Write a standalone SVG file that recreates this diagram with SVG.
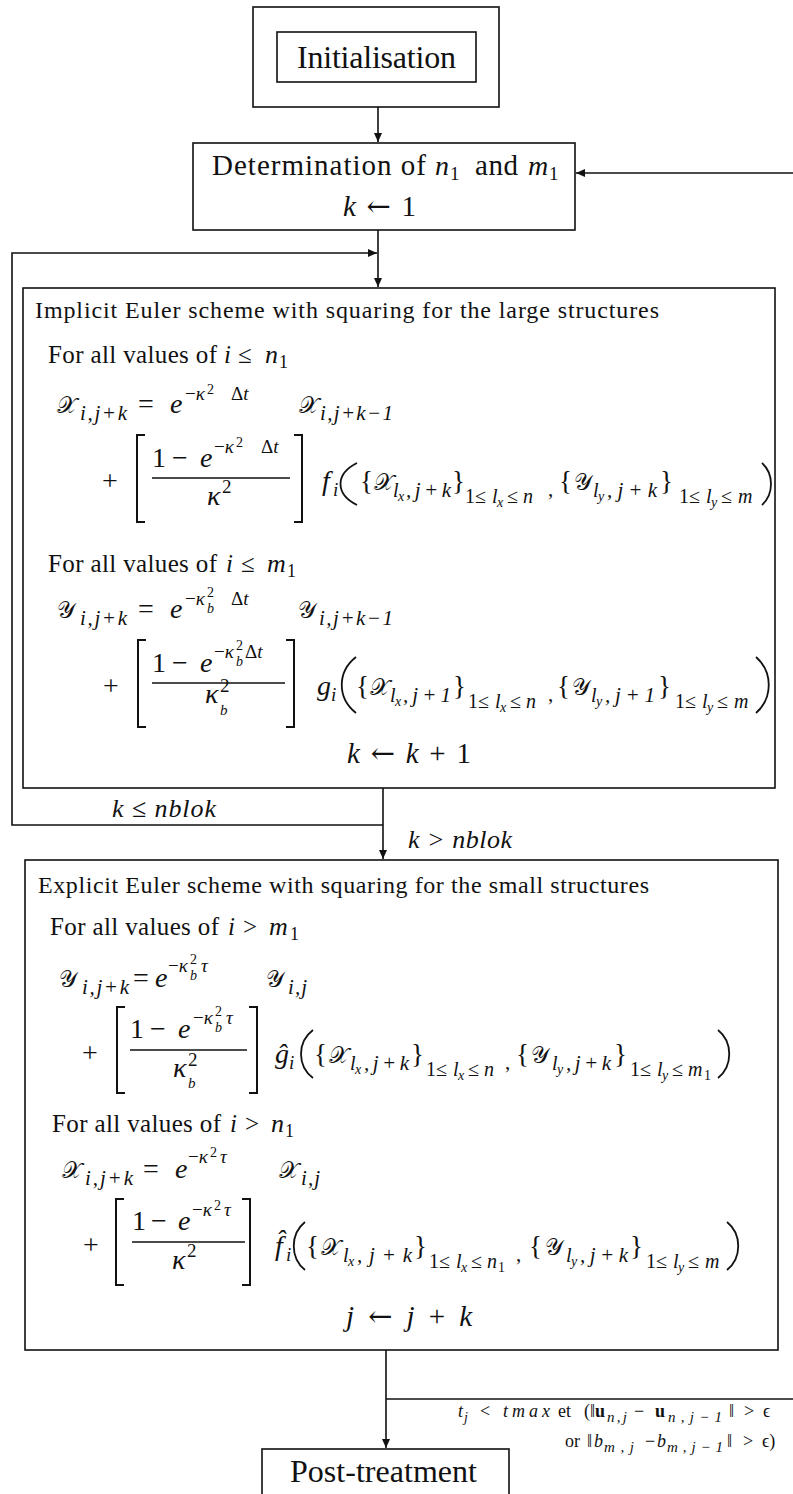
<svg xmlns="http://www.w3.org/2000/svg" width="793" height="1494" viewBox="0 0 793 1494">
<style>
text{font-family:"Liberation Serif","DejaVu Serif",serif;fill:#111}
.f32{font-size:32px}.f29{font-size:29px}.f28{font-size:28px}.f27{font-size:27px}.f26{font-size:26px}.f25{font-size:25px}.f24{font-size:24px}.f21{font-size:21px}.f20{font-size:20px}.f19{font-size:19px}.f18{font-size:18px}.f15{font-size:15px}.f14{font-size:14px}.f13{font-size:13px}
.it{font-style:italic}.bd{font-weight:bold}
.arr{font-family:"DejaVu Serif","DejaVu Sans",serif;font-style:normal}
.cal{font-family:"DejaVu Sans","DejaVu Serif",serif;font-size:23px;font-style:normal}
.box{fill:none;stroke:#111;stroke-width:1.6}
.ln{fill:none;stroke:#111;stroke-width:1.6}
.br{fill:none;stroke:#111;stroke-width:2}
.pa{fill:none;stroke:#111;stroke-width:1.8}
.bar{stroke:#111;stroke-width:1.3}
</style>
<defs>
<marker id="ah" markerWidth="9" markerHeight="8" refX="9" refY="4" orient="auto" markerUnits="userSpaceOnUse"><path d="M0,0 L9,4 L0,8 z" fill="#111"/></marker>
</defs>
<rect width="793" height="1494" fill="#fff"/>

<g id="connectors">
<line class="ln" x1="378" y1="107" x2="378" y2="142" marker-end="url(#ah)"/>
<line class="ln" x1="378" y1="230" x2="378" y2="287" marker-end="url(#ah)"/>
<polyline class="ln" points="383,825 12,825 12,253 377,253" marker-end="url(#ah)"/>
<line class="ln" x1="383" y1="788" x2="383" y2="859" marker-end="url(#ah)"/>
<line class="ln" x1="386" y1="1350" x2="386" y2="1448" marker-end="url(#ah)"/>
<line class="ln" x1="386" y1="1399" x2="793" y2="1399"/>
<line class="ln" x1="793" y1="173" x2="576" y2="173" marker-end="url(#ah)"/>
<text class="f26 it" x="112" y="817" textLength="104">k ≤ nblok</text>
<text class="f26 it" x="408" y="848" textLength="104">k &gt; nblok</text>
<g id="cond1">
<text class="f18 it" x="458" y="1417">t</text><text class="f14 it" x="464" y="1422">j</text>
<text class="f18" x="480" y="1417">&lt;</text>
<text class="f18 it" x="503" y="1417" textLength="47">tmax</text>
<text class="f18" x="558" y="1417">et</text>
<text class="f18" x="584" y="1417">(‖</text>
<text class="f18 bd" x="595" y="1417">u</text><text class="f15 it" x="607" y="1422" textLength="20">n,j</text>
<text class="f18" x="634" y="1417">−</text>
<text class="f18 bd" x="655" y="1417">u</text><text class="f15 it" x="668" y="1422" textLength="54">n,j−1</text>
<text class="f18" x="729" y="1417">‖</text>
<text class="f18" x="744" y="1417">&gt;</text>
<text class="f18" x="763" y="1417">ϵ</text>
</g>
<g id="cond2">
<text class="f18" x="565" y="1447">or</text>
<text class="f18" x="587" y="1447">‖</text>
<text class="f18 it" x="594" y="1447">b</text><text class="f15 it" x="604" y="1452" textLength="30">m,j</text>
<text class="f18" x="645" y="1447">−</text>
<text class="f18 it" x="657" y="1447">b</text><text class="f15 it" x="667" y="1452" textLength="56">m,j−1</text>
<text class="f18" x="727" y="1447">‖</text>
<text class="f18" x="743" y="1447">&gt;</text>
<text class="f18" x="762" y="1447">ϵ)</text>
</g>
</g>

<g id="init">
<rect class="box" x="253" y="7" width="246" height="100"/>
<rect class="box" x="277" y="32" width="199" height="50"/>
<text class="f32" x="297" y="68" textLength="159">Initialisation</text>
</g>

<g id="determination">
<rect class="box" x="193" y="143" width="382" height="87"/>
<text class="f29" x="212" y="175" textLength="214">Determination of</text>
<text class="f28 it" x="435" y="175">n</text><text class="f19" x="450" y="180">1</text>
<text class="f29" x="475" y="175" textLength="43">and</text>
<text class="f28 it" x="528" y="175">m</text><text class="f19" x="549" y="180">1</text>
<text class="f29" x="343" y="216" textLength="73"><tspan class="it">k</tspan> <tspan class="arr">←</tspan> 1</text>
</g>

<g id="implicit">
<rect class="box" x="23" y="288" width="752" height="500"/>
<text class="f24" x="35" y="318" textLength="624">Implicit Euler scheme with squaring for the large structures</text>
<text class="f25" x="48" y="363" textLength="169">For all values of</text>
<text class="f25 it" x="224" y="363">i</text><text class="f25" x="238" y="363">≤</text><text class="f26 it" x="265" y="363">n</text><text class="f18" x="279" y="368">1</text>
<!-- X row -->
<text class="cal" x="57" y="413">𝒳</text><text class="f21 it" x="80" y="420" textLength="47">i,j+k</text>
<text class="f28" x="138" y="413" textLength="21">=</text>
<text class="f28 it" x="170" y="413">e</text>
<text class="f19" x="185" y="400">−<tspan class="it">κ</tspan></text><text class="f14" x="207" y="394">2</text><text class="f19" x="231" y="400">Δ<tspan class="it">t</tspan></text>
<text class="cal" x="299" y="413">𝒳</text><text class="f21 it" x="320" y="420" textLength="73">i,j+k−1</text>
<!-- frac1 -->
<text class="f28" x="102" y="490">+</text>
<path class="br" d="M145,435 H137 V522 H145"/>
<text class="f28" x="152" y="467">1</text><text class="f28" x="172" y="467">−</text><text class="f28 it" x="200" y="467">e</text>
<text class="f19" x="214" y="453">−<tspan class="it">κ</tspan></text><text class="f14" x="236" y="447">2</text><text class="f19" x="261" y="453">Δ<tspan class="it">t</tspan></text>
<line class="bar" x1="152" y1="478" x2="290" y2="478"/>
<text class="f28 it" x="207" y="505">κ</text><text class="f19" x="222" y="493">2</text>
<path class="br" d="M294,435 H302 V522 H294"/>
<text class="f28 it" x="322" y="490">f</text><text class="f19 it" x="333" y="496">i</text>
<path class="pa" d="M357,463 C335,474 335,494 357,505"/>
<text class="f27" x="360" y="490">{</text>
<text class="cal" x="374" y="490">𝒳</text><text class="f20 it" x="393" y="497">l</text><text class="f14 it" x="398" y="501">x</text><text class="f21 it" x="406" y="497" textLength="45">,j+k</text>
<text class="f27" x="452" y="490">}</text>
<text class="f20" y="503"><tspan x="465">1</tspan><tspan x="475">≤</tspan><tspan class="it" x="492">l</tspan><tspan class="f14 it" x="497" y="507">x</tspan><tspan x="507" y="503">≤</tspan><tspan class="it" x="523">n</tspan></text>
<text class="f21" x="548" y="496">,</text>
<text class="f27" x="559" y="490">{</text>
<text class="cal" x="574" y="490">𝒴</text><text class="f20 it" x="593" y="497">l</text><text class="f14 it" x="598" y="501">y</text><text class="f21 it" x="607" y="497" textLength="50">,j+k</text>
<text class="f27" x="660" y="490">}</text>
<text class="f20" y="503"><tspan x="679">1</tspan><tspan x="689">≤</tspan><tspan class="it" x="706">l</tspan><tspan class="f14 it" x="711" y="507">y</tspan><tspan x="721" y="503">≤</tspan><tspan class="it" x="738">m</tspan></text>
<path class="pa" d="M762,463 C774,474 774,494 762,505"/>
<!-- For all i <= m1 -->
<text class="f25" x="48" y="572" textLength="169">For all values of</text>
<text class="f25 it" x="226" y="572">i</text><text class="f25" x="241" y="572">≤</text><text class="f26 it" x="267" y="572">m</text><text class="f18" x="287" y="577">1</text>
<!-- Y row -->
<text class="cal" x="57" y="618">𝒴</text><text class="f21 it" x="80" y="625" textLength="47">i,j+k</text>
<text class="f28" x="138" y="618" textLength="21">=</text>
<text class="f28 it" x="170" y="618">e</text>
<text class="f19" x="185" y="605">−<tspan class="it">κ</tspan></text><text class="f14" x="207" y="597">2</text><text class="f14 it" x="207" y="613">b</text><text class="f19" x="231" y="605">Δ<tspan class="it">t</tspan></text>
<text class="cal" x="298" y="618">𝒴</text><text class="f21 it" x="319" y="625" textLength="74">i,j+k−1</text>
<!-- frac2 -->
<text class="f28" x="103" y="695">+</text>
<path class="br" d="M146,640 H138 V727 H146"/>
<text class="f28" x="152" y="672">1</text><text class="f28" x="172" y="672">−</text><text class="f28 it" x="200" y="672">e</text>
<text class="f19" x="214" y="658">−<tspan class="it">κ</tspan></text><text class="f14" x="236" y="650">2</text><text class="f14 it" x="236" y="666">b</text><text class="f19" x="245" y="658">Δ<tspan class="it">t</tspan></text>
<line class="bar" x1="152" y1="683" x2="285" y2="683"/>
<text class="f28 it" x="205" y="703">κ</text><text class="f19" x="220" y="692">2</text><text class="f15 it" x="220" y="715">b</text>
<path class="br" d="M286,640 H294 V727 H286"/>
<text class="f28 it" x="317" y="695">g</text><text class="f19 it" x="331" y="701">i</text>
<path class="pa" d="M356,657 C337,672 337,698 356,713"/>
<text class="f27" x="356" y="695">{</text>
<text class="cal" x="370" y="695">𝒳</text><text class="f20 it" x="390" y="702">l</text><text class="f14 it" x="395" y="706">x</text><text class="f21 it" x="403" y="702" textLength="48">,j+1</text>
<text class="f27" x="453" y="695">}</text>
<text class="f20" y="708"><tspan x="468">1</tspan><tspan x="478">≤</tspan><tspan class="it" x="495">l</tspan><tspan class="f14 it" x="500" y="712">x</tspan><tspan x="510" y="708">≤</tspan><tspan class="it" x="526">n</tspan></text>
<text class="f21" x="548" y="701">,</text>
<text class="f27" x="557" y="695">{</text>
<text class="cal" x="572" y="695">𝒴</text><text class="f20 it" x="591" y="702">l</text><text class="f14 it" x="596" y="706">y</text><text class="f21 it" x="605" y="702" textLength="50">,j+1</text>
<text class="f27" x="658" y="695">}</text>
<text class="f20" y="708"><tspan x="675">1</tspan><tspan x="685">≤</tspan><tspan class="it" x="702">l</tspan><tspan class="f14 it" x="707" y="712">y</tspan><tspan x="717" y="708">≤</tspan><tspan class="it" x="734">m</tspan></text>
<path class="pa" d="M756,657 C773,672 773,698 756,713"/>
<text class="f29" x="347" y="763" textLength="124"><tspan class="it">k</tspan> <tspan class="arr">←</tspan> <tspan class="it">k</tspan> + 1</text>
</g>

<g id="explicit">
<rect class="box" x="25" y="860" width="753" height="490"/>
<text class="f24" x="38" y="893" textLength="611">Explicit Euler scheme with squaring for the small structures</text>
<text class="f25" x="50" y="935" textLength="169">For all values of</text>
<text class="f25 it" x="228" y="935">i</text><text class="f25" x="243" y="935">&gt;</text><text class="f26 it" x="269" y="935">m</text><text class="f18" x="290" y="940">1</text>
<!-- Y row -->
<text class="cal" x="59" y="987">𝒴</text><text class="f21 it" x="82" y="994" textLength="47">i,j+k</text>
<text class="f28" x="133" y="987" textLength="20">=</text>
<text class="f28 it" x="155" y="987">e</text>
<text class="f19" x="168" y="972">−<tspan class="it">κ</tspan></text><text class="f14" x="190" y="964">2</text><text class="f14 it" x="190" y="980">b</text><text class="f19 it" x="201" y="972">τ</text>
<text class="cal" x="266" y="987">𝒴</text><text class="f21 it" x="288" y="994" textLength="19">i,j</text>
<!-- g hat frac -->
<text class="f28" x="82" y="1062">+</text>
<path class="br" d="M125,1007 H117 V1093 H125"/>
<text class="f28" x="130" y="1038">1</text><text class="f28" x="150" y="1038">−</text><text class="f28 it" x="178" y="1038">e</text>
<text class="f19" x="193" y="1024">−<tspan class="it">κ</tspan></text><text class="f14" x="215" y="1016">2</text><text class="f14 it" x="215" y="1032">b</text><text class="f19 it" x="226" y="1024">τ</text>
<line class="bar" x1="130" y1="1050" x2="247" y2="1050"/>
<text class="f28 it" x="173" y="1077">κ</text><text class="f19" x="188" y="1066">2</text><text class="f15 it" x="188" y="1088">b</text>
<path class="br" d="M249,1007 H257 V1093 H249"/>
<text class="f28 it" x="275" y="1063">ĝ</text><text class="f19 it" x="289" y="1069">i</text>
<path class="pa" d="M313,1030 C297,1042 297,1066 313,1078"/>
<text class="f27" x="314" y="1063">{</text>
<text class="cal" x="329" y="1063">𝒳</text><text class="f20 it" x="350" y="1070">l</text><text class="f14 it" x="355" y="1074">x</text><text class="f21 it" x="364" y="1070" textLength="45">,j+k</text>
<text class="f27" x="411" y="1063">}</text>
<text class="f20" y="1076"><tspan x="426">1</tspan><tspan x="436">≤</tspan><tspan class="it" x="453">l</tspan><tspan class="f14 it" x="458" y="1080">x</tspan><tspan x="468" y="1076">≤</tspan><tspan class="it" x="484">n</tspan></text>
<text class="f21" x="505" y="1069">,</text>
<text class="f27" x="516" y="1063">{</text>
<text class="cal" x="531" y="1063">𝒴</text><text class="f20 it" x="552" y="1070">l</text><text class="f14 it" x="557" y="1074">y</text><text class="f21 it" x="566" y="1070" textLength="45">,j+k</text>
<text class="f27" x="614" y="1063">}</text>
<text class="f20" y="1076"><tspan x="630">1</tspan><tspan x="640">≤</tspan><tspan class="it" x="657">l</tspan><tspan class="f14 it" x="662" y="1080">y</tspan><tspan x="672" y="1076">≤</tspan><tspan class="it" x="688">m</tspan><tspan class="f14" x="704" y="1080">1</tspan></text>
<path class="pa" d="M718,1030 C733,1042 733,1066 718,1078"/>
<!-- For all i > n1 -->
<text class="f25" x="52" y="1132" textLength="169">For all values of</text>
<text class="f25 it" x="230" y="1132">i</text><text class="f25" x="245" y="1132">&gt;</text><text class="f26 it" x="271" y="1132">n</text><text class="f18" x="285" y="1137">1</text>
<!-- X row -->
<text class="cal" x="62" y="1178">𝒳</text><text class="f21 it" x="85" y="1185" textLength="48">i,j+k</text>
<text class="f28" x="143" y="1178" textLength="20">=</text>
<text class="f28 it" x="175" y="1178">e</text>
<text class="f19" x="188" y="1163">−<tspan class="it">κ</tspan></text><text class="f14" x="210" y="1157">2</text><text class="f19 it" x="220" y="1163">τ</text>
<text class="cal" x="279" y="1178">𝒳</text><text class="f21 it" x="301" y="1185" textLength="19">i,j</text>
<!-- f hat frac -->
<text class="f28" x="83" y="1254">+</text>
<path class="br" d="M124,1199 H116 V1285 H124"/>
<text class="f28" x="132" y="1230">1</text><text class="f28" x="151" y="1230">−</text><text class="f28 it" x="178" y="1230">e</text>
<text class="f19" x="192" y="1216">−<tspan class="it">κ</tspan></text><text class="f14" x="214" y="1210">2</text><text class="f19 it" x="224" y="1216">τ</text>
<line class="bar" x1="132" y1="1242" x2="245" y2="1242"/>
<text class="f28 it" x="172" y="1269">κ</text><text class="f19" x="187" y="1257">2</text>
<path class="br" d="M242,1199 H250 V1285 H242"/>
<text class="f28 it" x="275" y="1255">f̂</text><text class="f19 it" x="286" y="1261">i</text>
<path class="pa" d="M305,1222 C290,1234 290,1258 305,1270"/>
<text class="f27" x="306" y="1255">{</text>
<text class="cal" x="321" y="1255">𝒳</text><text class="f20 it" x="343" y="1262">l</text><text class="f14 it" x="348" y="1266">x</text><text class="f21 it" x="357" y="1262" textLength="55">,j+k</text>
<text class="f27" x="414" y="1255">}</text>
<text class="f20" y="1268"><tspan x="429">1</tspan><tspan x="439">≤</tspan><tspan class="it" x="456">l</tspan><tspan class="f14 it" x="461" y="1272">x</tspan><tspan x="471" y="1268">≤</tspan><tspan class="it" x="487">n</tspan><tspan class="f14" x="498" y="1272">1</tspan></text>
<text class="f21" x="516" y="1261">,</text>
<text class="f27" x="529" y="1255">{</text>
<text class="cal" x="545" y="1255">𝒴</text><text class="f20 it" x="566" y="1262">l</text><text class="f14 it" x="571" y="1266">y</text><text class="f21 it" x="580" y="1262" textLength="48">,j+k</text>
<text class="f27" x="630" y="1255">}</text>
<text class="f20" y="1268"><tspan x="646">1</tspan><tspan x="656">≤</tspan><tspan class="it" x="673">l</tspan><tspan class="f14 it" x="678" y="1272">y</tspan><tspan x="688" y="1268">≤</tspan><tspan class="it" x="705">m</tspan></text>
<path class="pa" d="M727,1222 C742,1234 742,1258 727,1270"/>
<text class="f29" x="346" y="1326" textLength="126"><tspan class="it">j</tspan> <tspan class="arr">←</tspan> <tspan class="it">j</tspan> + <tspan class="it">k</tspan></text>
</g>

<g id="post-treatment">
<rect class="box" x="262" y="1449" width="247" height="60"/>
<text class="f32" x="290" y="1482" textLength="187">Post-treatment</text>
</g>
</svg>
